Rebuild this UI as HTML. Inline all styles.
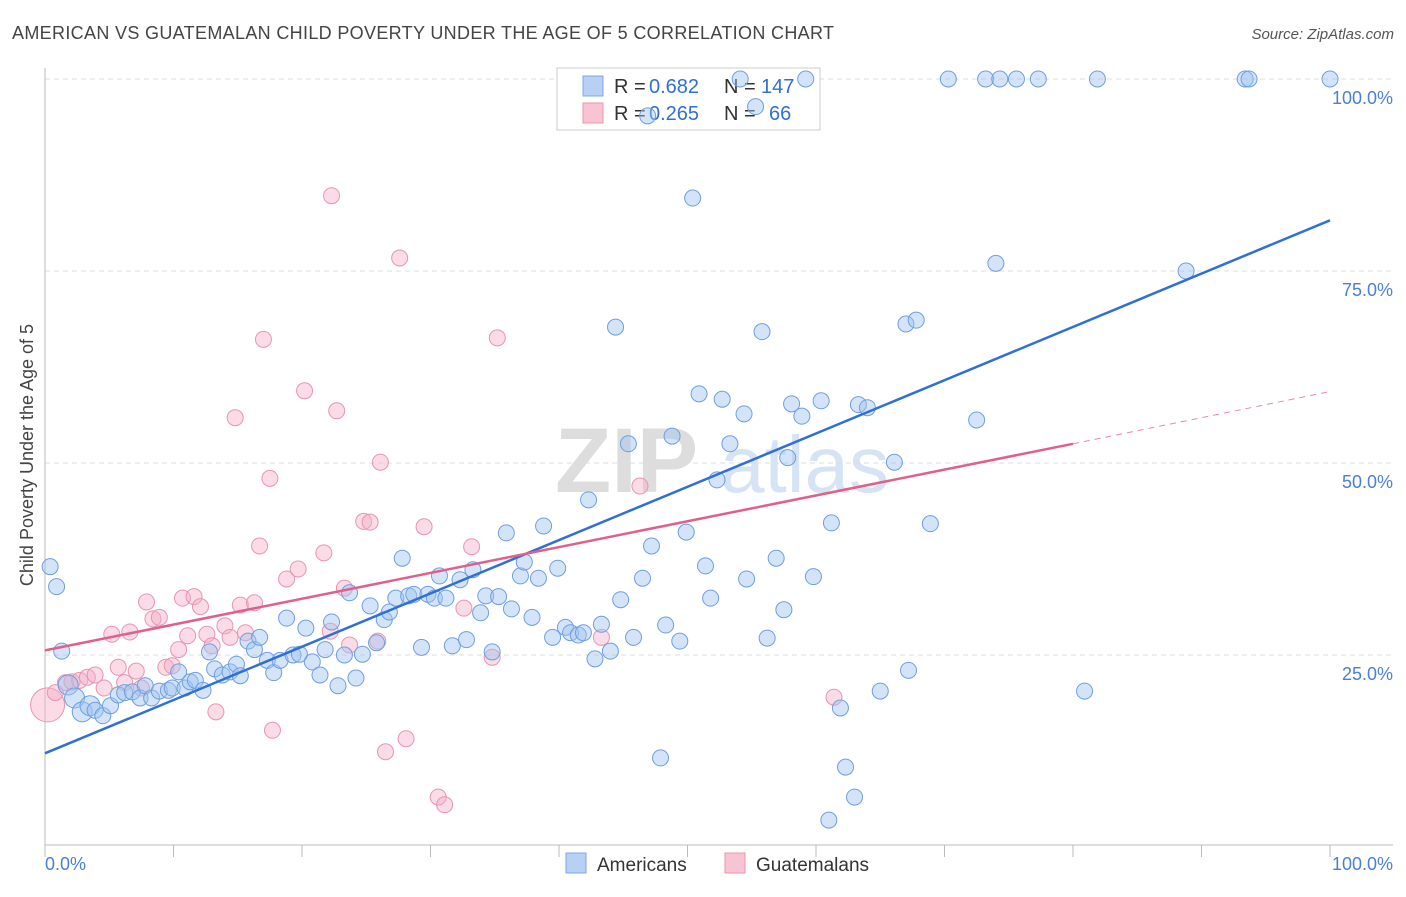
<!DOCTYPE html>
<html><head><meta charset="utf-8"><style>
body{margin:0;background:#fff;font-family:"Liberation Sans",sans-serif;}
svg text{font-family:"Liberation Sans",sans-serif;}
</style></head><body>
<svg id="chart" width="1406" height="892" xmlns="http://www.w3.org/2000/svg">
<text x="12" y="39" font-size="18" fill="#444" textLength="822">AMERICAN VS GUATEMALAN CHILD POVERTY UNDER THE AGE OF 5 CORRELATION CHART</text>
<text x="1394" y="39" font-size="15" fill="#555" text-anchor="end" font-style="italic">Source: ZipAtlas.com</text>
<text transform="translate(33,455) rotate(-90)" font-size="18" fill="#444" text-anchor="middle">Child Poverty Under the Age of 5</text>
<g><text x="555" y="492" font-size="92" fill="#ddd" font-family="Liberation Serif" font-weight="bold">ZIP</text><text x="720" y="492" font-size="80" fill="#d6e3f4">atlas</text></g>
<g id="grid"></g>
<g id="axes"></g>
<g>
<rect x="557" y="68" width="263" height="62" fill="#fff" stroke="#ccc"/>
<rect x="583" y="76" width="20" height="20" fill="#b7d0f3" stroke="#7ea8e6"/>
<rect x="583" y="103" width="20" height="20" fill="#f8c4d4" stroke="#ea94b0"/>
<text x="614" y="93" font-size="20" fill="#333">R =</text><text x="649" y="93" font-size="20" fill="#2f6fd6">0.682</text>
<text x="724" y="93" font-size="20" fill="#333">N =</text><text x="761" y="93" font-size="20" fill="#2f6fd6">147</text>
<text x="614" y="120" font-size="20" fill="#333">R =</text><text x="649" y="120" font-size="20" fill="#2f6fd6">0.265</text>
<text x="724" y="120" font-size="20" fill="#333">N =</text><text x="769" y="120" font-size="20" fill="#2f6fd6">66</text>
</g>
<g id="marks"></g>
<g>
<rect x="566" y="853" width="20" height="20" fill="#b7d0f3" stroke="#7ea8e6"/>
<text x="597" y="871" font-size="19" fill="#333">Americans</text>
<rect x="725" y="853" width="20" height="20" fill="#f8c4d4" stroke="#ea94b0"/>
<text x="756" y="871" font-size="19" fill="#333">Guatemalans</text>
</g>
</svg>
<script>
const blueX=[0.4,0.9,1.3,1.8,2.3,2.9,3.5,3.9,4.5,5.1,5.7,6.2,6.8,7.4,7.8,8.3,8.9,9.6,9.9,10.4,10.9,11.3,11.7,12.3,12.8,13.2,13.8,14.4,14.9,15.2,15.8,16.3,16.7,17.3,17.8,18.3,18.8,19.3,19.8,20.3,20.8,21.4,21.8,22.3,22.8,23.3,23.7,24.2,24.7,25.3,25.8,26.4,26.8,27.3,27.8,28.3,28.7,29.3,29.8,30.3,30.7,31.2,31.7,32.3,32.8,33.3,33.9,34.3,34.8,35.3,35.9,36.3,37.0,37.3,37.9,38.4,38.8,39.5,39.9,40.5,40.9,41.5,41.9,42.3,42.8,43.3,44.0,44.4,44.8,45.4,45.8,46.5,46.9,47.2,47.9,48.3,48.8,49.4,49.9,50.4,50.9,51.4,51.8,52.3,52.7,53.3,54.1,54.4,54.6,55.3,55.8,56.2,56.9,57.5,57.8,58.1,58.9,59.2,59.8,60.4,61.0,61.2,61.9,62.3,63.0,63.3,64.0,65.0,66.1,67.0,67.2,67.8,68.9,70.3,72.5,73.2,74.0,74.3,75.6,77.3,80.9,81.9,88.8,93.4,93.7,100];
const blueY=[36.5,33.9,25.5,21.1,19.4,17.6,18.4,17.8,17.1,18.4,19.8,20.1,20.2,19.4,21.0,19.4,20.3,20.4,20.7,22.8,20.7,21.5,21.7,20.4,25.4,23.2,22.4,22.8,23.8,22.3,26.8,25.7,27.3,24.3,22.7,24.3,29.8,25.0,25.1,28.5,24.1,22.4,25.7,29.3,21.0,25.0,33.1,22.0,25.1,31.4,26.6,29.6,30.6,32.4,37.6,32.7,32.9,26.0,32.9,32.4,35.3,32.4,26.2,34.8,27.0,36.1,30.5,32.7,25.4,32.6,40.9,31.0,35.3,37.1,29.9,35.0,41.8,27.3,36.3,28.6,27.9,27.6,27.9,45.2,24.5,29.0,25.5,67.7,32.2,52.5,27.3,35.0,95.2,39.2,11.6,28.9,53.5,26.8,41.0,84.5,59.0,36.6,32.4,47.8,58.3,52.5,100,56.4,34.9,96.4,67.1,27.2,37.6,30.9,50.7,57.7,56.1,100,35.2,58.1,3.5,42.2,18.1,10.4,6.5,57.6,57.2,20.3,50.1,68.1,23.0,68.6,42.1,100,55.6,100,76.0,100,100,100,20.3,100,75.0,100,100,100];
const pinkX=[0.2,0.8,1.6,2.1,2.7,3.3,3.9,4.6,5.2,5.7,6.2,6.6,7.1,7.5,7.9,8.4,8.9,9.4,9.9,10.4,10.7,11.1,11.6,12.1,12.6,13.0,13.3,14.0,14.4,14.8,15.2,15.6,16.3,16.7,17.0,17.5,17.7,18.8,19.7,20.2,21.7,22.2,22.3,22.7,23.3,23.7,24.8,25.3,25.9,26.1,26.5,27.6,28.1,29.5,30.6,31.1,32.6,33.2,34.8,35.2,43.3,46.3,61.4];
const pinkY=[18.5,20.1,21.4,21.5,21.7,22.1,22.4,20.7,27.7,23.4,21.4,28.0,22.9,20.7,31.9,29.7,29.9,23.4,23.6,25.7,32.4,27.5,32.6,31.3,27.7,26.2,17.6,28.8,27.3,55.9,31.5,27.9,31.8,39.2,66.1,48.0,15.2,34.9,36.2,59.4,38.3,28.1,84.8,56.8,33.7,26.3,42.4,42.3,26.8,50.1,12.4,76.7,14.1,41.7,6.5,5.5,31.1,39.1,24.7,66.3,27.3,47.0,19.5];
const blueLine=[12.2,81.6];
const pinkLine=[25.6,52.5,59.3];
const pinkSolidEnd=80;
const yTicks=[25,50,75,100];
const xTickCount=10;
const NS="http://www.w3.org/2000/svg";
const X=v=>45+v*12.85, Y=v=>847-v*7.68;
function mk(t,a,p){const e=document.createElementNS(NS,t);for(const k in a)e.setAttribute(k,a[k]);p.appendChild(e);return e;}
const grid=document.getElementById('grid'),axes=document.getElementById('axes'),marks=document.getElementById('marks');
yTicks.forEach(t=>{const l=mk('line',{x1:45,x2:1393,y1:Y(t),y2:Y(t),stroke:'#ddd','stroke-dasharray':'5,4'},grid);


const tx=mk('text',{x:1393,y:Y(t)+25,'font-size':18,fill:'#4a7fd6','text-anchor':'end'},axes);tx.textContent=t.toFixed(1)+'%';

});
mk('line',{x1:45,x2:45,y1:68,y2:845,stroke:'#bbb'},axes);
mk('line',{x1:45,x2:1393,y1:845,y2:845,stroke:'#bbb'},axes);
for(let i=0;i<=xTickCount;i++){const x=X(i*100/xTickCount);mk('line',{x1:x,x2:x,y1:845,y2:857,stroke:'#bbb'},axes);}
const x0=mk('text',{x:45,y:870,'font-size':18,fill:'#4a7fd6'},axes);x0.textContent='0.0%';


const x1=mk('text',{x:1393,y:870,'font-size':18,fill:'#4a7fd6','text-anchor':'end'},axes);x1.textContent='100.0%';


pinkX.forEach((v,i)=>{const c=mk('circle',{cx:X(v),cy:Y(pinkY[i]),r:i==0?17:8,fill:'rgba(245,176,200,0.45)',stroke:'#e895b2','stroke-width':1},marks);

});
blueX.forEach((v,i)=>{const c=mk('circle',{cx:X(v),cy:Y(blueY[i]),r:(i>=3&&i<=6)?10:8,fill:'rgba(160,195,240,0.45)',stroke:'#6e9fe0','stroke-width':1},marks);

});
const bl=mk('line',{x1:X(0),y1:Y(blueLine[0]),x2:X(100),y2:Y(blueLine[1]),stroke:'#2f6fd6','stroke-width':2.5},marks);


const pl=mk('line',{x1:X(0),y1:Y(pinkLine[0]),x2:X(pinkSolidEnd),y2:Y(pinkLine[1]),stroke:'#e0608a','stroke-width':2.5},marks);


const pd=mk('line',{x1:X(pinkSolidEnd),y1:Y(pinkLine[1]),x2:X(100),y2:Y(pinkLine[2]),stroke:'#e88aa8','stroke-width':1,'stroke-dasharray':'6,5'},marks);


</script>
</body></html>
